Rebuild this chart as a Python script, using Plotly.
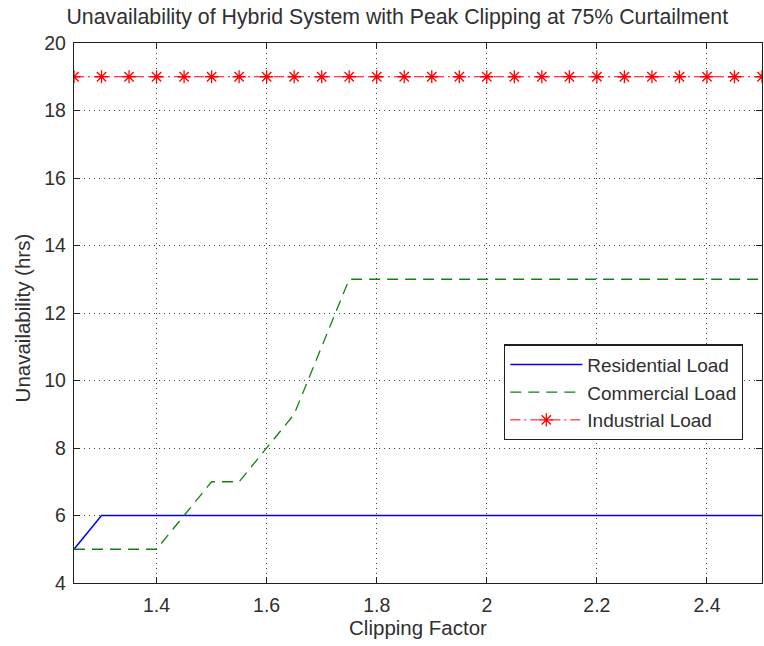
import plotly.graph_objects as go

clipping_factor = [1.25, 1.30, 1.35, 1.40, 1.45, 1.50, 1.55, 1.60, 1.65, 1.70, 1.75, 1.80, 1.85,
                   1.90, 1.95, 2.00, 2.05, 2.10, 2.15, 2.20, 2.25, 2.30, 2.35, 2.40, 2.45, 2.50]
residential = [5, 6, 6, 6, 6, 6, 6, 6, 6, 6, 6, 6, 6, 6, 6, 6, 6, 6, 6, 6, 6, 6, 6, 6, 6, 6]
commercial = [5, 5, 5, 5, 6, 7, 7, 8, 9, 11, 13, 13, 13, 13, 13, 13, 13, 13, 13, 13, 13, 13, 13, 13, 13, 13]
industrial = [19] * 26

x_ticks = [1.4, 1.6, 1.8, 2.0, 2.2, 2.4]
x_tick_labels = ["1.4", "1.6", "1.8", "2", "2.2", "2.4"]
y_ticks = [4, 6, 8, 10, 12, 14, 16, 18, 20]

font = "Liberation Sans, Arial, sans-serif"
txt = "#303030"

fig = go.Figure()
fig.add_trace(go.Scatter(x=clipping_factor, y=residential, mode="lines", name="Residential Load",
                         line=dict(color="#0000ff", width=1.5)))
fig.add_trace(go.Scatter(x=clipping_factor, y=commercial, mode="lines", name="Commercial Load",
                         line=dict(color="#108010", width=1.3, dash="11px,7px")))
fig.add_trace(go.Scatter(x=clipping_factor, y=industrial, mode="lines+markers", name="Industrial Load",
                         line=dict(color="#ff0000", width=1, dash="10px,4px,2px,4px"),
                         marker=dict(symbol="asterisk-open", size=11, color="#ff0000",
                                     line=dict(color="#ff0000", width=1.3))))

axis_common = dict(showline=True, linecolor="#202020", linewidth=1.3, mirror="ticks",
                   ticks="inside", ticklen=6, tickcolor="#202020", tickwidth=1.3,
                   showgrid=True, gridcolor="#404040", griddash="1px,4px", gridwidth=1,
                   zeroline=False, tickfont=dict(family=font, size=19.5, color=txt))

fig.update_xaxes(range=[1.25, 2.5], tickvals=x_ticks, ticktext=x_tick_labels,
                 ticklabelstandoff=4,
                 title=dict(text="Clipping Factor", font=dict(family=font, size=20.5, color=txt), standoff=2),
                 **axis_common)
fig.update_yaxes(range=[4, 20], tickvals=y_ticks, ticklabelstandoff=3, **axis_common)

fig.add_annotation(text="Unavailability (hrs)", textangle=-90, showarrow=False,
                   xref="paper", yref="paper", x=(22 - 74) / 688, y=0.49,
                   xanchor="center", yanchor="middle",
                   font=dict(family=font, size=20.5, color=txt))

fig.update_layout(
    width=764, height=646,
    margin=dict(l=74, r=2, t=43, b=63),
    paper_bgcolor="white", plot_bgcolor="white",
    title=dict(text="Unavailability of Hybrid System with Peak Clipping at 75% Curtailment",
               x=0.52, xref="container", xanchor="center", y=0.974, yanchor="middle",
               font=dict(family=font, size=21.3, color=txt)),
    showlegend=True,
    legend=dict(x=0.625, y=0.442, xanchor="left", yanchor="top",
                bgcolor="white", bordercolor="#202020", borderwidth=1.3,
                font=dict(family=font, size=19, color=txt),
                itemwidth=72, tracegroupgap=0),
)

fig.write_html("out.html")
